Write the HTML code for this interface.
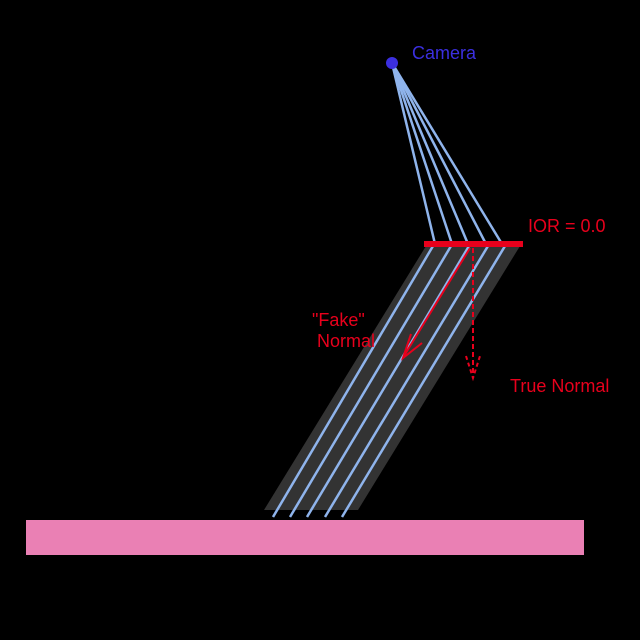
<!DOCTYPE html>
<html><head><style>body{margin:0;background:#000}svg{display:block}</style></head>
<body>
<svg width="640" height="640" viewBox="0 0 640 640" xmlns="http://www.w3.org/2000/svg">
<rect width="640" height="640" fill="#000"/>
<polygon points="426,246 520,246 358,510 264,510" fill="#333"/>
<rect x="26" y="520" width="558" height="35" fill="#ea80b4"/>
<g stroke="#8fb4ec" stroke-width="2.5" fill="none">
<line x1="392" y1="63" x2="435" y2="244"/>
<line x1="392" y1="63" x2="452" y2="244"/>
<line x1="392" y1="63" x2="468" y2="244"/>
<line x1="392" y1="63" x2="486" y2="244"/>
<line x1="392" y1="63" x2="502" y2="244"/>
<line x1="433" y1="246" x2="273" y2="517"/>
<line x1="451" y1="246" x2="290" y2="517"/>
<line x1="469" y1="246" x2="307" y2="517"/>
<line x1="488" y1="246" x2="325" y2="517"/>
<line x1="505" y1="246" x2="342" y2="517"/>
</g>
<circle cx="392" cy="63" r="6" fill="#3b2fe0"/>
<text x="412" y="59" font-family="Liberation Sans, sans-serif" font-size="18" fill="#3b2fe0">Camera</text>
<rect x="424" y="241" width="99" height="6" fill="#e8001c"/>
<text x="528" y="232" font-family="Liberation Sans, sans-serif" font-size="18" fill="#e8001c">IOR = 0.0</text>
<g stroke="#e8001c" stroke-width="2" fill="none">
<line x1="470" y1="248" x2="404" y2="356"/>
<polyline points="411,334 403,358 422,343"/>
<line x1="473" y1="248" x2="473" y2="378" stroke-dasharray="5,3"/>
<polyline points="466,356 473,378 480,356" stroke-dasharray="4,3"/>
</g>
<text x="312" y="326" font-family="Liberation Sans, sans-serif" font-size="18" fill="#e8001c">"Fake"</text>
<text x="317" y="347" font-family="Liberation Sans, sans-serif" font-size="18" fill="#e8001c">Normal</text>
<text x="510" y="392" font-family="Liberation Sans, sans-serif" font-size="18" fill="#e8001c">True Normal</text>
</svg>
</body></html>
